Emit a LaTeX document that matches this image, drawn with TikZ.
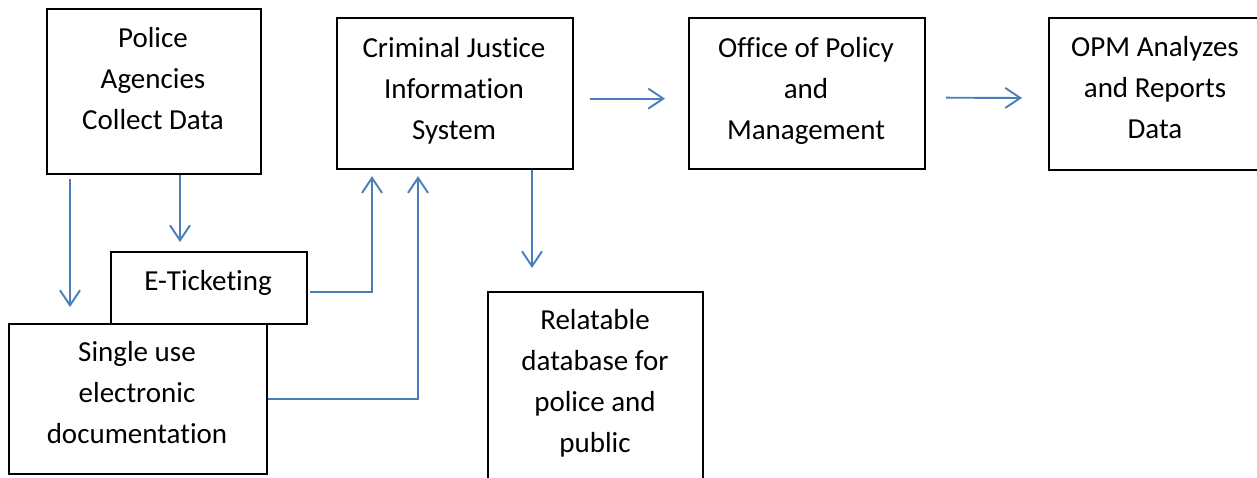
\documentclass[tikz,border=0pt]{standalone}
\usepackage{fontspec}
\setmainfont{Carlito}[Ligatures=NoCommon]
\usetikzlibrary{arrows.meta}
\definecolor{arrblue}{HTML}{4A7EBB}
\begin{document}
\begin{tikzpicture}[x=1pt,y=-1pt,
  box/.style={draw=black, line width=2.2pt, inner sep=0pt, anchor=north west},
  txt/.style={font=\fontsize{29}{41}\selectfont, align=center, inner sep=0pt, anchor=base},
  arr/.style={draw=arrblue, line width=1.9pt, -{Straight Barb[length=15pt,width=20pt,line width=1.9pt]}}]
\useasboundingbox (0,0) rectangle (1257,477);
% boxes
\node[box, minimum width=214pt, minimum height=165pt] (pol) at (46,8) {};
\node[box, minimum width=236pt, minimum height=151pt] (cjis) at (336,17) {};
\node[box, minimum width=236pt, minimum height=151pt] (opm) at (688,17) {};
\node[box, minimum width=222pt, minimum height=152pt] (rep) at (1048,17) {};
\node[box, minimum width=196pt, minimum height=72pt] (eti) at (110,251) {};
\node[box, minimum width=258pt, minimum height=150pt] (sgl) at (8,323) {};
\node[box, minimum width=215pt, minimum height=200pt] (rel) at (487,291) {};
% texts (anchor = baseline of last line)
\node[txt] (polt) at (153,129) {Police\\Agencies\\Collect Data};
\node[txt] (cjist) at (454,139) {Criminal Justice\\Information\\System};
\node[txt] (opmt) at (806,139) {Office of Policy\\and\\Management};
\node[txt] (rept) at (1155,138) {OPM Analyzes\\and Reports\\Data};
\node[txt] (etit) at (208,290) {E-Ticketing};
\node[txt] (sglt) at (137,443) {Single use\\electronic\\documentation};
\node[txt] (relt) at (595,452) {Relatable\\database for\\police and\\public};
% connectors
\draw[arr, shorten <=4pt, shorten >=16pt] ([xshift=24pt]pol.south west) -- ([xshift=62pt]sgl.north west);
\draw[arr, shorten >=9pt] ([xshift=134pt]pol.south west) -- ([xshift=70pt]eti.north west);
\draw[arr, shorten >=23pt] ([xshift=196pt]cjis.south west) -- ([xshift=45pt]rel.north west);
\draw[arr, shorten <=16pt, shorten >=23pt] ([yshift=-5pt]cjis.east) -- ([yshift=-5pt]opm.west);
\draw[arr, shorten <=20pt, shorten >=26pt] ([yshift=-4pt]opm.east) -- ([yshift=-4pt]rep.west);
\draw[arr, shorten <=2pt, shorten >=6pt] ([yshift=-4pt]eti.east) -| ([xshift=36pt]cjis.south west);
\draw[arr, shorten >=6pt] (sgl.east) -| ([xshift=82pt]cjis.south west);
\end{tikzpicture}
\end{document}
